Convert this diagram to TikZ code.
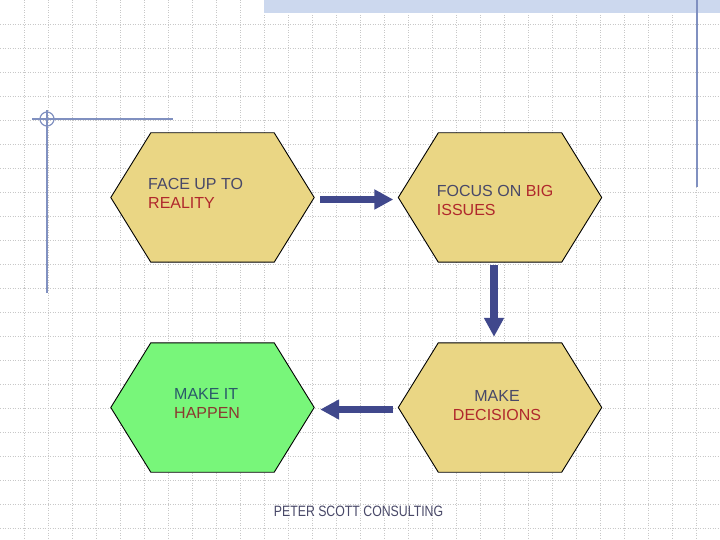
\documentclass[tikz,border=0pt]{standalone}
\usepackage{fontspec}
\setmainfont{Liberation Sans}
\usetikzlibrary{arrows.meta,calc}
\definecolor{hexyellow}{RGB}{234,214,132}
\definecolor{hexgreen}{RGB}{120,246,122}
\definecolor{arrowblue}{RGB}{64,72,140}
\definecolor{txtdark}{RGB}{72,72,104}
\definecolor{txtred}{RGB}{176,40,44}
\definecolor{txtteal}{RGB}{42,90,106}
\definecolor{txtbrown}{RGB}{138,58,48}
\definecolor{decoblue}{RGB}{128,144,192}
\definecolor{bandblue}{RGB}{204,216,238}
\definecolor{gridgray}{RGB}{200,200,200}
\pgfdeclarelayer{grid}
\pgfdeclarelayer{background}
\pgfsetlayers{grid,background,main}
\tikzset{
  hexbox/.style={rectangle, minimum width=203bp, minimum height=129bp, inner sep=0pt},
  hexline/.style={draw=black, line width=0.9bp},
  hextext/.style={inner sep=0pt, font=\fontsize{16bp}{19.3bp}\selectfont},
  bigarrow/.style={draw=arrowblue, line width=7.3bp, -{Triangle[width=19bp,length=19bp]}},
  gridline/.style={draw=gridgray, line width=0.8bp, dash pattern=on 1bp off 1.5bp},
  decoline/.style={draw=decoblue, line width=1.2bp},
}
\newcommand\hexfrom[2]{%
  \draw[hexline, fill=#2] (#1.west) -- ($(#1.north west)+(40,0)$) -- ($(#1.north east)+(-40,0)$)
    -- (#1.east) -- ($(#1.south east)+(-40,0)$) -- ($(#1.south west)+(40,0)$) -- cycle;}
\begin{document}
\begin{tikzpicture}[x=1bp, y=-1bp]
\useasboundingbox (0,0) rectangle (720,540);
% grid
\begin{pgfonlayer}{grid}
  \fill[white] (0,0) rectangle (720,540);
  \foreach \i in {1,...,29} \draw[gridline] (24*\i,0) -- (24*\i,540);
  \foreach \j in {1,...,22} \draw[gridline] (0,24*\j) -- (720,24*\j);
  \fill[bandblue] (264,0) rectangle (720,12.7);
\end{pgfonlayer}
% decorations
\draw[decoline] (697,0) -- (697,187);
\draw[decoline] (32,119) -- (173,119);
\draw[decoline] (47,110) -- (47,293);
\draw[decoline] (47,119) circle (7bp);
% hexagon frames
\node[hexbox] (h1) at (212.5,197.5) {};
\node[hexbox] (h2) at (500,197.5) {};
\node[hexbox] (h3) at (212.5,407.5) {};
\node[hexbox] (h4) at (500,407.5) {};
\begin{pgfonlayer}{background}
  \hexfrom{h1}{hexyellow}
  \hexfrom{h2}{hexyellow}
  \hexfrom{h3}{hexgreen}
  \hexfrom{h4}{hexyellow}
\end{pgfonlayer}
% texts
\node[hextext, anchor=north west, align=left] (t1) at (148,178.3)
  {\textcolor{txtdark}{FACE UP TO}\\\textcolor{txtred}{REALITY}};
\node[hextext, anchor=north west, align=left] (t2) at (436.7,185)
  {\textcolor{txtdark}{FOCUS ON }\textcolor{txtred}{BIG}\\\textcolor{txtred}{ISSUES}};
\node[hextext, anchor=north west, align=left] (t3) at (174,388.3)
  {\textcolor{txtteal}{MAKE IT}\\\textcolor{txtbrown}{HAPPEN}};
\node[hextext, anchor=north, align=center] (t4) at (497,390)
  {\textcolor{txtdark}{MAKE}\\\textcolor{txtred}{DECISIONS}};
% connectors
\draw[bigarrow, shorten <=6bp, shorten >=5bp] ([yshift=-2bp]h1.east) -- ([yshift=-2bp]h2.west);
\draw[bigarrow, shorten <=3bp, shorten >=6bp] ([xshift=-6bp]h2.south) -- ([xshift=-6bp]h4.north);
\draw[bigarrow, shorten <=5bp, shorten >=6bp] ([yshift=-2bp]h4.west) -- ([yshift=-2bp]h3.east);
% footer
\node[inner sep=0pt, anchor=base, text=txtdark, font=\fontsize{15bp}{18bp}\selectfont] (foot) at (358.5,516)
  {\scalebox{0.82}[1]{PETER SCOTT CONSULTING}};
\end{tikzpicture}
\end{document}
